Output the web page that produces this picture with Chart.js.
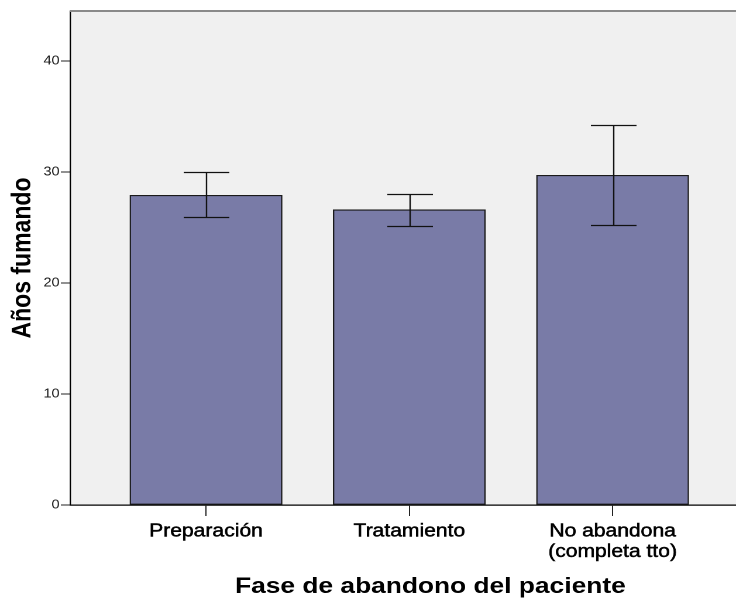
<!DOCTYPE html>
<html>
<head>
<meta charset="utf-8">
<script src="https://cdn.jsdelivr.net/npm/chart.js@4"></script>
<style>
  html, body { margin:0; padding:0; background:#fff; overflow:hidden; }
  #wrap { width:629px; height:598px; transform:scaleX(1.1701); transform-origin:0 0; }
</style>
</head>
<body>
<div id="wrap"><canvas id="c"></canvas></div>
<script>
// data
const categories = ['Preparación', 'Tratamiento', ['No abandona', '(completa tto)']];
const means = [27.9, 26.6, 29.7];
const lower = [25.9, 25.1, 25.2];
const upper = [30.0, 28.0, 34.2];
const yTicks = [0, 10, 20, 30, 40];

const FONT = '"Liberation Sans", Arial, sans-serif';

// background of plot + grey top edge
const frame = {
  id: 'frame',
  beforeDraw(chart) {
    const {ctx, chartArea: a} = chart;
    ctx.save();
    ctx.fillStyle = '#f0f0f0';
    ctx.fillRect(a.left, a.top, a.right - a.left, a.bottom - a.top);
    ctx.restore();
  },
  afterDraw(chart) {
    const {ctx, chartArea: a} = chart;
    ctx.save();
    ctx.strokeStyle = '#8a8a8a';
    ctx.lineWidth = 2;
    ctx.beginPath(); ctx.moveTo(a.left, a.top); ctx.lineTo(a.right, a.top); ctx.stroke();
    // x axis title, SPSS places it a bit right of the middle category
    ctx.fillStyle = '#000';
    ctx.font = 'bold 22.5px ' + FONT;
    ctx.textAlign = 'center';
    ctx.textBaseline = 'alphabetic';
    ctx.fillText('Fase de abandono del paciente', chart.scales.x.getPixelForValue(1) + 18, 593);
    ctx.restore();
  }
};

// error bars
const whiskers = {
  id: 'whiskers',
  afterDatasetsDraw(chart) {
    const {ctx, scales: {x, y}} = chart;
    const cap = 19.5;
    ctx.save();
    ctx.strokeStyle = '#111';
    ctx.lineWidth = 1.2;
    means.forEach((m, i) => {
      const px = Math.round(x.getPixelForValue(i)) + 0.5;
      const lo = Math.round(y.getPixelForValue(lower[i])) + 0.5;
      const hi = Math.round(y.getPixelForValue(upper[i])) + 0.5;
      ctx.beginPath();
      ctx.moveTo(px, lo); ctx.lineTo(px, hi);
      ctx.moveTo(px - cap, lo); ctx.lineTo(px + cap, lo);
      ctx.moveTo(px - cap, hi); ctx.lineTo(px + cap, hi);
      ctx.stroke();
    });
    ctx.restore();
  }
};

new Chart(document.getElementById('c'), {
  type: 'bar',
  data: {
    datasets: [{
      data: means.map((v, i) => ({x: i, y: v})),
      backgroundColor: '#797ba7',
      borderColor: '#1a1a1a',
      borderWidth: 1.2,
      borderSkipped: false,
      barThickness: 130
    }]
  },
  options: {
    responsive: true,
    maintainAspectRatio: false,
    animation: false,
    devicePixelRatio: 2,
    layout: {padding: {top: 11, right: 0, left: 0, bottom: 0}},
    plugins: {legend: {display: false}, tooltip: {enabled: false}},
    scales: {
      x: {
        type: 'linear',
        offset: false,
        min: -0.668,
        max: 2.607,
        afterBuildTicks: s => { s.ticks = categories.map((c, i) => ({value: i})); },
        afterFit: s => { s.height = 93; },
        grid: {display: true, offset: false, drawOnChartArea: false, drawTicks: true, tickLength: 11, color: '#222'},
        border: {display: true, color: '#000', width: 1.2},
        ticks: {
          callback: (v) => categories[v],
          color: '#000',
          textStrokeColor: '#000',
          textStrokeWidth: 0.5,
          font: {family: FONT, size: 18, lineHeight: 1.15},
          padding: 5,
          maxRotation: 0,
          autoSkip: false
        }
      },
      y: {
        min: 0,
        max: 44.5,
        afterBuildTicks: s => { s.ticks = yTicks.map(v => ({value: v})); },
        afterFit: s => { s.width = 60; },
        grid: {display: true, drawOnChartArea: false, drawTicks: true, tickLength: 8, color: '#222'},
        border: {display: true, color: '#000', width: 1.2},
        ticks: {color: '#222', font: {family: FONT, size: 12.5}, padding: 1},
        title: {
          display: true,
          text: 'Años fumando',
          color: '#000',
          font: {family: FONT, size: 23, weight: 'bold'},
          padding: {top: 6, bottom: 0}
        }
      }
    }
  },
  plugins: [frame, whiskers]
});
</script>
</body>
</html>
